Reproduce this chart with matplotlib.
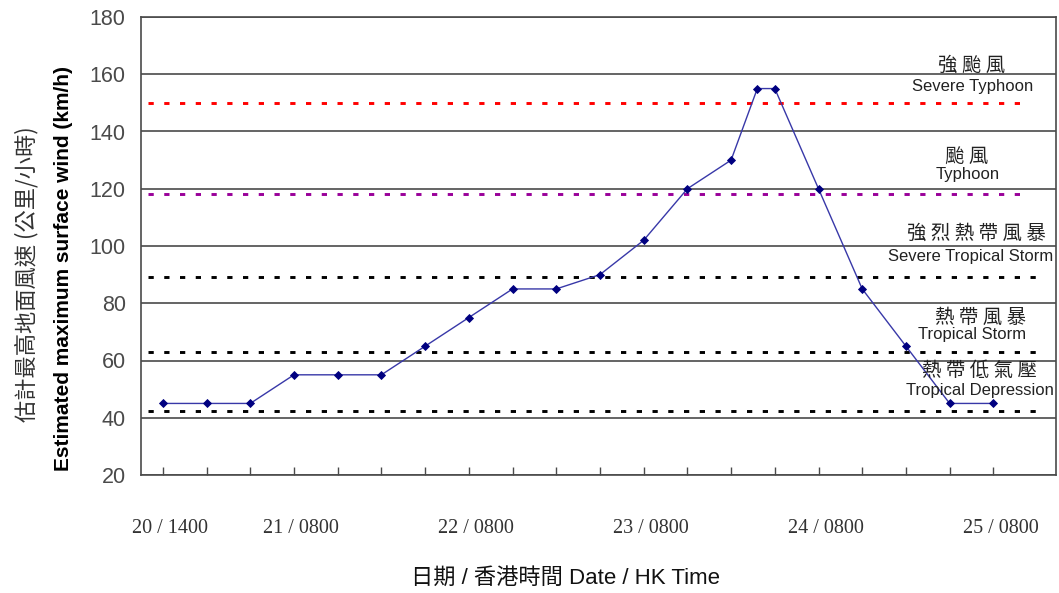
import matplotlib
matplotlib.use("Agg")
import matplotlib.pyplot as plt

# ---- data ----
# hours after 20/1400 HK time
hours = [0, 6, 12, 18, 24, 30, 36, 42, 48, 54, 60, 66, 72, 78, 81.6, 84, 90, 96, 102, 108, 114]
wind = [45, 45, 45, 55, 55, 55, 65, 75, 85, 85, 90, 102, 120, 130, 155, 155, 120, 85, 65, 45, 45]

label_hours = [0, 18, 42, 66, 90, 114]
label_text = ["20 / 1400", "21 / 0800", "22 / 0800", "23 / 0800", "24 / 0800", "25 / 0800"]
minor_hours = list(range(0, 115, 6))

thresholds = [150, 118, 89, 63, 42.5]
threshold_colors = ["#ff0000", "#990099", "#000000", "#000000", "#000000"]

class_zh = ["強 颱 風", "颱 風", "強 烈 熱 帶 風 暴", "熱 帶 風 暴", "熱 帶 低 氣 壓"]
class_en = ["Severe Typhoon", "Typhoon", "Severe Tropical Storm", "Tropical Storm", "Tropical Depression"]

yticks = [20, 40, 60, 80, 100, 120, 140, 160, 180]

# ---- figure ----
W, H = 1059, 593
fig = plt.figure(figsize=(W / 100, H / 100), dpi=100)
L, R, B, T = 141, 1056, 475, 17
ax = fig.add_axes([L / W, 1 - B / H, (R - L) / W, (B - T) / H])

ax.set_xlim(-3.0, 122.6)
ax.set_ylim(20, 180)

for sp in ax.spines.values():
    sp.set_color("#4a4a4a")
    sp.set_linewidth(1.2)

# gridlines
for yv in yticks:
    ax.axhline(yv, color="#3a3a3a", lw=1.1, zorder=1)

# threshold dotted lines
x0 = (148 - L) / (R - L)
x1s = [(1030 - L) / (R - L), (1030 - L) / (R - L), (1045 - L) / (R - L),
       (1045 - L) / (R - L), (1045 - L) / (R - L)]
for yv, c, x1 in zip(thresholds, threshold_colors, x1s):
    ax.axhline(yv, xmin=x0, xmax=x1, color=c, lw=2.1, linestyle=(0, (1.8, 3.6)), zorder=2)

# data
ax.plot(hours, wind, color="#3838a8", lw=1.0, marker="D", markersize=4.0,
        markerfacecolor="#000080", markeredgecolor="#000080", markeredgewidth=0.6, zorder=4)

# ticks
ax.set_yticks(yticks)
ax.tick_params(axis="y", length=0, pad=11, labelsize=15.5, labelcolor="#4a4a4a")
for lab in ax.get_yticklabels():
    lab.set_fontfamily("Liberation Sans")

ax.set_xticks([h + 1.0 for h in label_hours])
ax.set_xticklabels(label_text, fontfamily="Liberation Serif", fontsize=14.5, color="#333333")
ax.tick_params(axis="x", which="major", length=0, pad=32)
ax.set_xticks(minor_hours, minor=True)
ax.tick_params(axis="x", which="minor", direction="in", length=6, width=1.0, color="#4a4a4a")

# classification labels (axes-fraction positions)
def af(px, py):
    return ((px - L) / (R - L), (B - py) / (B - T))

zh_pos = [(972, 65), (967, 157), (976, 233), (981, 317), (979, 371)]
en_pos = [(973, 87), (968, 175), (971, 257), (972, 334), (980, 391)]
for t, p in zip(class_zh, zh_pos):
    ax.text(*af(*p), t, transform=ax.transAxes, ha="center", va="center",
            fontsize=14, family=["Noto Sans CJK TC"], color="#222222", zorder=5)
for t, p in zip(class_en, en_pos):
    ax.text(*af(*p), t, transform=ax.transAxes, ha="center", va="center",
            fontsize=12, family=["Liberation Sans"], color="#222222", zorder=5)

# axis titles
fig.text(565 / W, 1 - 578 / H, "日期 / 香港時間 Date / HK Time", ha="center", va="center",
         fontsize=16, family=["Liberation Sans", "Noto Sans CJK TC"], color="#111111")
fig.text(27 / W, 1 - 274 / H, "估計最高地面風速 (公里/小時)", rotation=90, ha="center", va="center",
         fontsize=16, family=["Noto Sans CJK TC", "DejaVu Sans"], color="#333333")
fig.text(64 / W, 1 - 268 / H, "Estimated maximum surface wind (km/h)", rotation=90, ha="center",
         va="center", fontsize=15, fontweight="bold", family=["Liberation Sans"], color="#000000")

fig.savefig("out.png", dpi=100, facecolor="white")
